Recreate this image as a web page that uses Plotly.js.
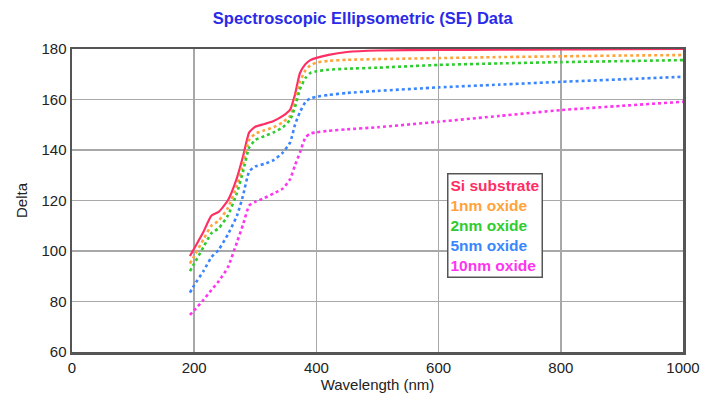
<!DOCTYPE html>
<html>
<head>
<meta charset="utf-8">
<script src="https://cdn.plot.ly/plotly-3.0.1.min.js"></script>
<style>html,body{margin:0;padding:0;background:#fff;}#chart{width:703px;height:398px;}</style>
</head>
<body>
<div id="chart"></div>
<script>
const wavelength = [193, 200, 215, 228, 240, 255, 270, 280, 290, 300, 315, 330, 345, 357, 365, 373, 382, 390, 400, 420, 450, 500, 600, 700, 800, 900, 1000];
const siSubstrate = [98, 101, 107.5, 114, 115.5, 120, 129, 137.5, 147, 149.2, 150.3, 151.5, 153.5, 156, 162, 170.4, 174, 175.6, 176.5, 177.7, 178.8, 179.4, 179.6, 179.7, 179.8, 179.9, 180];
const oxide1nm = [95, 98, 104.5, 110, 112, 117, 126, 134.5, 144, 146.5, 147.8, 149, 151, 153.5, 159, 167, 171.5, 173.5, 174.6, 175.3, 175.7, 176, 176.4, 176.8, 177.1, 177.4, 177.6];
const oxide2nm = [92, 95, 101.5, 107, 109, 114, 123, 131.5, 141, 144, 145.5, 147, 149, 152, 157, 164, 168.5, 170.5, 171.2, 171.8, 172.2, 172.6, 173.7, 174.3, 174.8, 175.2, 175.6];
const oxide5nm = [83.5, 86.5, 92, 97.5, 100.5, 106.5, 114, 122, 131.5, 133.5, 134.5, 136, 139, 143, 150, 155, 159, 160.5, 161.1, 161.8, 162.6, 163.4, 164.8, 165.9, 167, 168, 169];
const oxide10nm = [74.7, 76.5, 80.6, 84.5, 88, 93.5, 103.5, 110.5, 118, 119.5, 121, 122.8, 124.7, 128.5, 134, 139, 145, 146.5, 147, 147.6, 148.2, 149, 151.2, 153.5, 155.8, 157.5, 159.1];

const seriesNames = ['Si substrate', '1nm oxide', '2nm oxide', '5nm oxide', '10nm oxide'];
const seriesValues = [siSubstrate, oxide1nm, oxide2nm, oxide5nm, oxide10nm];
const colors = ['#ff2e63', '#ffa33a', '#2ecc2e', '#3a86ff', '#ff33f0'];
const dashes = ['solid', 'dot', 'dot', 'dot', 'dot'];

const traces = seriesValues.map((v, i) => ({
  x: wavelength, y: v, name: seriesNames[i], type: 'scatter', mode: 'lines',
  line: {color: colors[i], width: i === 0 ? 2.2 : 2.6, dash: dashes[i], shape: 'spline', smoothing: 0.5},
  showlegend: false, hoverinfo: 'skip'
}));

const legendText = seriesNames.map((n, i) => `<span style="color:${colors[i]}">${n}</span>`).join('<br>');
const FONT = 'Liberation Sans, Arial, sans-serif';

const axisCommon = {
  showline: true, mirror: true, linecolor: '#555', linewidth: 2.5,
  showgrid: true, gridcolor: '#a8a8a8', gridwidth: 1.5, zeroline: false,
  ticks: '', tickfont: {family: FONT, size: 15, color: '#222'}
};

const layout = {
  width: 703, height: 398,
  margin: {l: 72, r: 20, t: 49, b: 46},
  paper_bgcolor: '#fff', plot_bgcolor: '#fff',
  title: {text: '<b>Spectroscopic Ellipsometric (SE) Data</b>', font: {family: FONT, size: 16.5, color: '#2a2ae8'}, x: 0.516, xanchor: 'center', yref: 'container', y: 0.955, yanchor: 'middle'},
  xaxis: Object.assign({}, axisCommon, {range: [0, 1000], tickvals: [0, 200, 400, 600, 800, 1000], title: {text: 'Wavelength (nm)', font: {family: FONT, size: 15, color: '#222'}, standoff: 2}}),
  yaxis: Object.assign({}, axisCommon, {range: [60, 180], tickvals: [60, 80, 100, 120, 140, 160, 180], title: {text: 'Delta', font: {family: FONT, size: 15, color: '#222'}, standoff: 10}}),
  annotations: [{
    xref: 'paper', yref: 'paper', x: 0.614, y: 0.591, xanchor: 'left', yanchor: 'top',
    text: '<b>' + legendText + '</b>', align: 'left', showarrow: false,
    font: {family: FONT, size: 15.5},
    bordercolor: '#555', borderwidth: 1.5, borderpad: 2, bgcolor: '#fff'
  }]
};

Plotly.newPlot('chart', traces, layout, {staticPlot: true, displayModeBar: false});
</script>
</body>
</html>
